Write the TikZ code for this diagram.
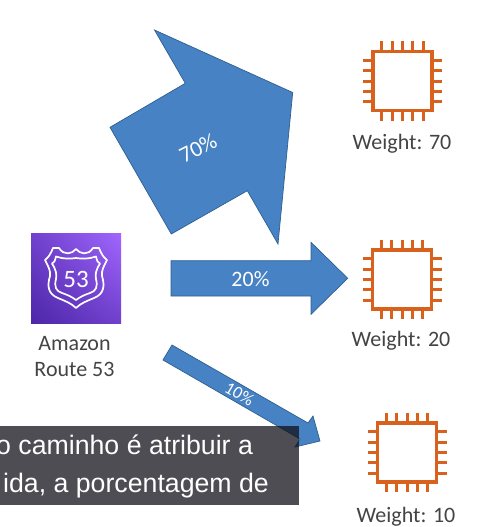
\documentclass[tikz,border=0pt]{standalone}
\usepackage{fontspec}
\setmainfont{Carlito}
\newfontfamily\captionfont{Liberation Sans}
\usetikzlibrary{positioning,calc,shadings}
\definecolor{arrowblue}{HTML}{4682C4}
\definecolor{arrowline}{HTML}{2F5F8F}
\definecolor{chiporange}{HTML}{D9611E}
\definecolor{labelgrey}{HTML}{444444}
\definecolor{iconlow}{HTML}{4D27A8}
\definecolor{iconmid}{HTML}{7041CD}
\definecolor{iconhigh}{HTML}{A166FF}
\definecolor{captionback}{HTML}{111018}
\tikzset{
  blockarrow/.style={fill=arrowblue,draw=arrowline,line width=0.7pt,line join=miter},
  arrowtext/.style={text=white,inner sep=0pt},
  chipline/.style={draw=chiporange,line width=3.4pt},
  weightlabel/.style={text=labelgrey,font=\fontsize{22}{22}\selectfont,inner sep=0pt},
  captionline/.style={text=white,inner sep=0pt,font=\captionfont\fontsize{26.7}{26.7}\selectfont,anchor=base west},
}
\newcommand{\chip}[3]{%
  \node[chipline,minimum size=59pt,inner sep=0pt,fill=white] (#1) at (#2,#3) {};
  \foreach \i in {-2,-1,0,1,2} {
    \draw[chiporange,line width=3pt] ($(#1)+(\i*10.3,-30)$) --++(0,-9.5);
    \draw[chiporange,line width=3pt] ($(#1)+(\i*10.3,30)$) --++(0,9.5);
    \draw[chiporange,line width=3pt] ($(#1)+(-30,\i*10.3)$) --++(-9.5,0);
    \draw[chiporange,line width=3pt] ($(#1)+(30,\i*10.3)$) --++(9.5,0);
  }
}
\begin{document}
\begin{tikzpicture}[x=1pt,y=-1pt]
  \useasboundingbox (0,0) rectangle (480,527);
  \fill[white] (0,0) rectangle (480,527);
  %70
  \draw[blockarrow] (154.5,30) -- (292.7,92.5) -- (278,244) -- (247.3,190.7) -- (171.3,234) -- (110,127.3) -- (185.3,83.3) -- cycle;
  \node[arrowtext,rotate=27,font=\fontsize{22.5}{22.5}\selectfont] (seventy) at (198,148) {70\%};
  %20
  \draw[blockarrow] (171,260.7) -- (311,260.7) -- (311,242.3) -- (347.7,278.3) -- (311,314.3) -- (311,296) -- (171,296) -- cycle;
  \node[arrowtext,font=\fontsize{22}{22}\selectfont] (twenty) at (250.5,279.5) {20\%};
  %10
  \draw[blockarrow] (172,345) -- (308,423) -- (313,416) -- (320,441) -- (295,447) -- (300,439) -- (163,360) -- cycle;
  \node[arrowtext,rotate=-30,font=\fontsize{17.5}{17.5}\selectfont] (ten) at (239.5,394) {10\%};
  %icon
  \node[minimum size=90pt,inner sep=0pt,shade,shading=bilinear interpolation,lower left=iconlow,upper right=iconhigh,lower right=iconmid,upper left=iconmid] (icon) at (76,278) {};
  \draw[white,line width=1.7pt,line join=round] (76,249) .. controls (72,254) and (64,256) .. (59,248) -- (53,248)
    .. controls (51,253) and (49,257) .. (45,260) .. controls (48,266) and (51,271) .. (50,276)
    .. controls (47,286) and (48,294) .. (58,298) .. controls (65,301) and (71,303) .. (76,308)
    .. controls (81,303) and (87,301) .. (94,298) .. controls (104,294) and (105,286) .. (102,276)
    .. controls (101,271) and (104,266) .. (107,260) .. controls (103,257) and (101,253) .. (99,248) -- (93,248)
    .. controls (88,256) and (80,254) .. (76,249) -- cycle;
  \draw[white,line width=1.7pt,line join=round] (76,258) .. controls (70,259) and (63,259) .. (56,256.5)
    .. controls (55,261) and (54,263) .. (52,263.5) .. controls (56,270) and (57,274) .. (56,279)
    .. controls (54,287) and (56,291) .. (62,293) .. controls (68,295) and (72,297) .. (76,300)
    .. controls (80,297) and (84,295) .. (90,293) .. controls (96,291) and (98,287) .. (96,279)
    .. controls (95,274) and (96,270) .. (100,263.5) .. controls (98,263) and (97,261) .. (96,256.5)
    .. controls (89,259) and (82,259) .. (76,258) -- cycle;
  \node[text=white,inner sep=0pt,font=\fontsize{25}{25}\selectfont] (routenum) at (76,279) {53};
  \node[text=labelgrey,align=center,font=\fontsize{22}{26}\selectfont,inner sep=0pt] (route) at (74.5,356.5) {Amazon\\Route 53};
  %chips
  \chip{chipa}{402.5}{81}
  \chip{chipb}{402}{279.5}
  \chip{chipc}{407}{452.5}
  \node[weightlabel] (weighta) at (402,143.5) {Weight: 70};
  \node[weightlabel] (weightb) at (401,340.5) {Weight: 20};
  \node[weightlabel] (weightc) at (406,517) {Weight: 10};
  %caption
  \fill[captionback,fill opacity=.74] (0,426) rectangle (299,505);
  \node[captionline] (linea) at (-4,454) {o caminho é atribuir a};
  \node[captionline] (lineb) at (3,492) {ida, a porcentagem de};
\end{tikzpicture}
\end{document}
